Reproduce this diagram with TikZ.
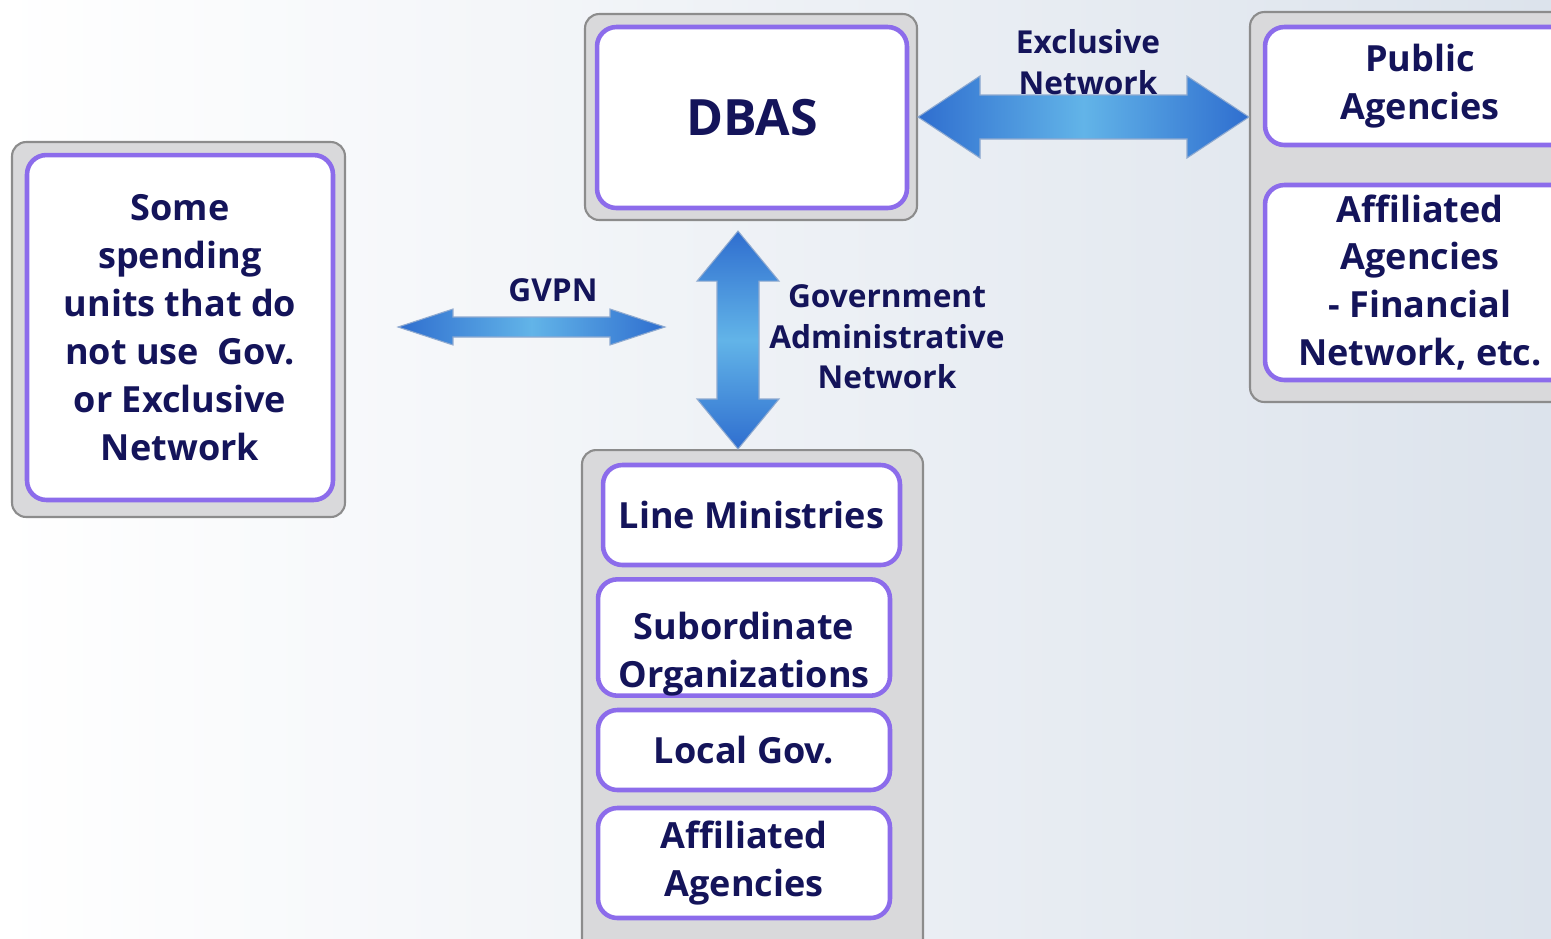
\documentclass[tikz,border=0pt]{standalone}
\usepackage{fontspec}
\setmainfont{Open Sans}
\usetikzlibrary{calc}
\definecolor{textnavy}{HTML}{14145A}
\definecolor{boxpurple}{HTML}{8C6CEB}
\definecolor{groupgray}{HTML}{D9D9DB}
\definecolor{groupline}{HTML}{8C8C8C}
\definecolor{arrowdark}{HTML}{2F6ECF}
\definecolor{arrowlight}{HTML}{62B4E8}
\definecolor{arrowline}{HTML}{8FAAD0}
\definecolor{bgright}{HTML}{DCE3EC}

\newcommand{\harrow}[6]{%
  \shade[#6] let \p1=(#1), \p2=(#2) in
    (\x1,\y1) -- (\x1+#5,\y1+#4) -- (\x1+#5,\y1+#3) -- (\x2-#5,\y1+#3)
    -- (\x2-#5,\y1+#4) -- (\x2,\y1) -- (\x2-#5,\y1-#4) -- (\x2-#5,\y1-#3)
    -- (\x1+#5,\y1-#3) -- (\x1+#5,\y1-#4) -- cycle;}
\newcommand{\varrow}[6]{%
  \shade[#6] let \p1=(#1), \p2=(#2) in
    (\x1,\y1) -- (\x1+#4,\y1-#5) -- (\x1+#3,\y1-#5) -- (\x1+#3,\y2+#5)
    -- (\x1+#4,\y2+#5) -- (\x1,\y2) -- (\x1-#4,\y2+#5) -- (\x1-#3,\y2+#5)
    -- (\x1-#3,\y1-#5) -- (\x1-#4,\y1-#5) -- cycle;}

\begin{document}
\begin{tikzpicture}[x=0.02cm, y=-0.02cm,
  grp/.style={draw=groupline, line width=1.2pt, fill=groupgray, rounded corners=8pt},
  unit/.style={draw=boxpurple, line width=2.6pt, fill=white, rounded corners=11pt,
    text=textnavy, font=\bfseries\fontsize{20.5}{27.3}\selectfont, align=center, inner sep=0pt},
  lbl/.style={text=textnavy, font=\bfseries\fontsize{18}{23}\selectfont, align=center},
  hband/.style={left color=arrowdark, right color=arrowdark, middle color=arrowlight,
    draw=arrowline, line width=0.6pt},
  vband/.style={top color=arrowdark, bottom color=arrowdark, middle color=arrowlight,
    draw=arrowline, line width=0.6pt}]
\useasboundingbox (0,0) rectangle (1551,938);
\shade[left color=white, right color=bgright] (0,0) rectangle (1551,938);

\node[grp, minimum width=6.66cm, minimum height=7.5cm] (left-grp) at (178.5,329.5) {};
\node[unit, minimum width=6.12cm, minimum height=6.9cm] (spending) at (180,327.5)
  {Some\\spending\\units that do\\not use~~Gov.\\or Exclusive\\Network};

\node[grp, minimum width=6.64cm, minimum height=4.12cm] (dbas-grp) at (751,117) {};
\node[unit, minimum width=6.2cm, minimum height=3.62cm, font=\bfseries\fontsize{28.5}{32}\selectfont]
  (dbas) at (752,117.5) {DBAS};

\node[grp, minimum width=6.8cm, minimum height=7.8cm] (right-grp) at (1420,207) {};
\node[unit, minimum width=6.2cm, minimum height=2.36cm] (public) at (1420,86) {Public\\Agencies};
\node[unit, minimum width=6.2cm, minimum height=3.9cm] (financial) at (1420,282.5)
  {Affiliated\\Agencies\\- Financial\\Network, etc.};

\node[grp, minimum width=6.82cm, minimum height=10.2cm] (bottom-grp) at (752.5,705) {};
\node[unit, minimum width=5.94cm, minimum height=2.0cm] (line) at (751.5,515) {Line Ministries};
\node[unit, minimum width=5.84cm, minimum height=2.3cm] (sub) at (744,637.5)
  {\rule{0pt}{34pt}Subordinate\\Organizations};
\node[unit, minimum width=5.84cm, minimum height=1.6cm] (local) at (744,750) {Local Gov.};
\node[unit, minimum width=5.84cm, minimum height=2.2cm] (affiliated) at (744,863) {Affiliated\\Agencies};

\coordinate (gvpn-l) at (398,327);
\coordinate (gvpn-r) at (665,327);
\coordinate (gan-t) at ($(dbas-grp.south)+(-13,10)$);
\coordinate (gan-b) at (gan-t |- bottom-grp.north);

\harrow{dbas-grp.east}{dbas-grp.east -| right-grp.west}{0.44cm}{0.82cm}{1.24cm}{hband}
\harrow{gvpn-l}{gvpn-r}{0.2cm}{0.36cm}{1.1cm}{hband}
\varrow{gan-t}{gan-b}{0.42cm}{0.82cm}{1.0cm}{vband}

\node[lbl] (excl) at (1088,62) {Exclusive\\Network};
\node[lbl] (gvpn) at (553,290) {GVPN};
\node[lbl] (gan) at (887,337) {Government\\Administrative\\Network};
\end{tikzpicture}
\end{document}
